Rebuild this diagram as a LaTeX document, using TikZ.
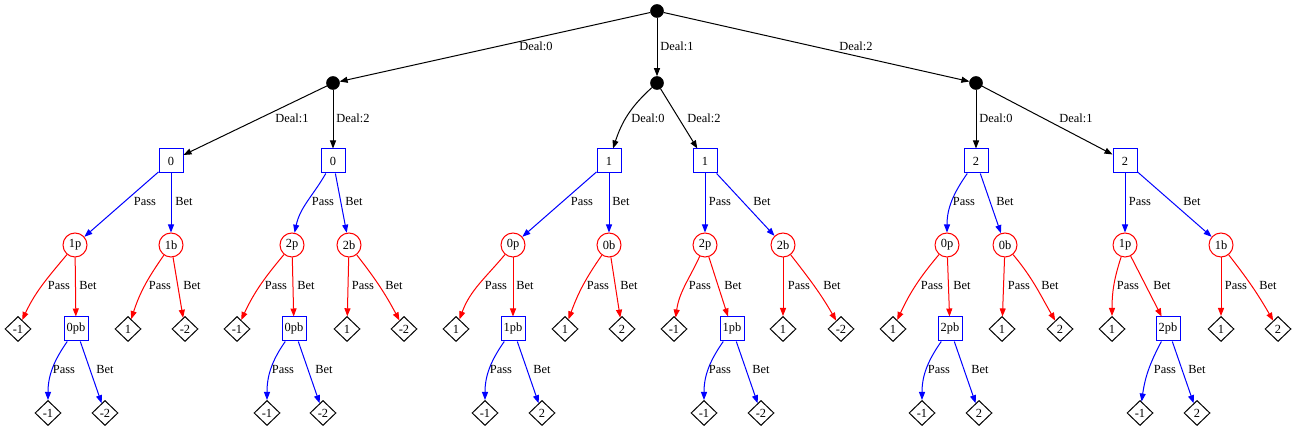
\documentclass[tikz,border=0pt]{standalone}
\usepackage{fontspec}
\setmainfont{Liberation Serif}
\usetikzlibrary{shapes.geometric,arrows.meta}
\begin{document}
\begin{tikzpicture}[x=0.75pt,y=0.75pt,font=\fontsize{9.3}{11}\selectfont,
  chance/.style={circle,fill=black,draw=black,minimum size=9.75pt,inner sep=0pt},
  pzero/.style={rectangle,draw=blue,line width=0.75pt,minimum size=18pt,inner sep=0pt},
  pone/.style={circle,draw=red,line width=0.75pt,minimum size=18pt,inner sep=0pt},
  term/.style={diamond,draw=black,line width=0.75pt,minimum width=19.5pt,minimum height=18.75pt,inner sep=0pt},
  lbl/.style={inner sep=0pt},
  arr/.style={-{Triangle[length=6pt,width=4.5pt]},line width=0.75pt},
  dealedge/.style={arr,draw=black},
  zedge/.style={arr,draw=blue},
  oedge/.style={arr,draw=red}]
\useasboundingbox (0,0) rectangle (1296,431);
% ---------- nodes ----------
\node[chance] (root) at (657,420) {};
\node[chance] (cA) at (333,348) {};
\node[chance] (cB) at (657,348) {};
\node[chance] (cC) at (976,348) {};
% left subtree
\node[pzero] (A1) at (171,270) {0};
\node[pzero] (A2) at (333,270) {0};
\node[pone] (A1p) at (75,186) {1p};
\node[pone] (A1b) at (171,186) {1b};
\node[pone] (A2p) at (292,186) {2p};
\node[pone] (A2b) at (349,186) {2b};
\node[term] (A1pp) at (18,102) {-1};
\node[pzero] (A1pb) at (76,102) {0pb};
\node[term] (A1bp) at (128,102) {1};
\node[term] (A1bb) at (185,102) {-2};
\node[term] (A2pp) at (237,102) {-1};
\node[pzero] (A2pb) at (294,102) {0pb};
\node[term] (A2bp) at (347,102) {1};
\node[term] (A2bb) at (404,102) {-2};
\node[term] (A1pbp) at (48,18) {-1};
\node[term] (A1pbb) at (105,18) {-2};
\node[term] (A2pbp) at (267,18) {-1};
\node[term] (A2pbb) at (323,18) {-2};
% middle subtree
\node[pzero] (B0) at (609,270) {1};
\node[pzero] (B2) at (705,270) {1};
\node[pone] (B0p) at (513,186) {0p};
\node[pone] (B0b) at (609,186) {0b};
\node[pone] (B2p) at (705,186) {2p};
\node[pone] (B2b) at (783,186) {2b};
\node[term] (B0pp) at (456,102) {1};
\node[pzero] (B0pb) at (513,102) {1pb};
\node[term] (B0bp) at (565,102) {1};
\node[term] (B0bb) at (622,102) {2};
\node[term] (B2pp) at (674,102) {-1};
\node[pzero] (B2pb) at (732,102) {1pb};
\node[term] (B2bp) at (783,102) {1};
\node[term] (B2bb) at (841,102) {-2};
\node[term] (B0pbp) at (485,18) {-1};
\node[term] (B0pbb) at (542,18) {2};
\node[term] (B2pbp) at (704,18) {-1};
\node[term] (B2pbb) at (761,18) {-2};
% right subtree
\node[pzero] (C0) at (976,270) {2};
\node[pzero] (C1) at (1125,270) {2};
\node[pone] (C0p) at (947,186) {0p};
\node[pone] (C0b) at (1005,186) {0b};
\node[pone] (C1p) at (1125,186) {1p};
\node[pone] (C1b) at (1221,186) {1b};
\node[term] (C0pp) at (893,102) {1};
\node[pzero] (C0pb) at (950,102) {2pb};
\node[term] (C0bp) at (1002,102) {1};
\node[term] (C0bb) at (1060,102) {2};
\node[term] (C1pp) at (1112,102) {1};
\node[pzero] (C1pb) at (1168,102) {2pb};
\node[term] (C1bp) at (1221,102) {1};
\node[term] (C1bb) at (1278,102) {2};
\node[term] (C0pbp) at (922,18) {-1};
\node[term] (C0pbb) at (979,18) {2};
\node[term] (C1pbp) at (1140,18) {-1};
\node[term] (C1pbb) at (1197,18) {2};
% ---------- edges ----------
\draw[dealedge] (root) -- (cA);
\draw[dealedge] (root) -- (cB);
\draw[dealedge] (root) -- (cC);
\draw[dealedge] (cA) -- (A1);
\draw[dealedge] (cA) -- (A2);
\draw[dealedge] (cB) to[out=-138,in=72] (B0);
\draw[dealedge] (cB) -- (B2);
\draw[dealedge] (cC) -- (C0);
\draw[dealedge] (cC) -- (C1);
% left
\draw[zedge] (A1) -- (A1p);
\draw[zedge] (A1) -- (A1b);
\draw[zedge] (A2) to[out=-120,in=78] (A2p);
\draw[zedge] (A2) -- (A2b);
\draw[oedge] (A1p) to[out=-130,in=65] (A1pp);
\draw[oedge] (A1p) -- (A1pb);
\draw[oedge] (A1b) to[out=-125,in=72] (A1bp);
\draw[oedge] (A1b) -- (A1bb);
\draw[oedge] (A2p) to[out=-130,in=65] (A2pp);
\draw[oedge] (A2p) -- (A2pb);
\draw[oedge] (A2b) -- (A2bp);
\draw[oedge] (A2b) to[out=-52,in=118] (A2bb);
\draw[zedge] (A1pb) to[out=-125,in=90] (A1pbp);
\draw[zedge] (A1pb) -- (A1pbb);
\draw[zedge] (A2pb) to[out=-125,in=90] (A2pbp);
\draw[zedge] (A2pb) -- (A2pbb);
% middle
\draw[zedge] (B0) -- (B0p);
\draw[zedge] (B0) -- (B0b);
\draw[zedge] (B2) -- (B2p);
\draw[zedge] (B2) -- (B2b);
\draw[oedge] (B0p) to[out=-130,in=70] (B0pp);
\draw[oedge] (B0p) -- (B0pb);
\draw[oedge] (B0b) to[out=-125,in=70] (B0bp);
\draw[oedge] (B0b) -- (B0bb);
\draw[oedge] (B2p) to[out=-115,in=82] (B2pp);
\draw[oedge] (B2p) -- (B2pb);
\draw[oedge] (B2b) -- (B2bp);
\draw[oedge] (B2b) to[out=-52,in=120] (B2bb);
\draw[zedge] (B0pb) to[out=-125,in=90] (B0pbp);
\draw[zedge] (B0pb) -- (B0pbb);
\draw[zedge] (B2pb) to[out=-125,in=90] (B2pbp);
\draw[zedge] (B2pb) -- (B2pbb);
% right
\draw[zedge] (C0) to[out=-125,in=90] (C0p);
\draw[zedge] (C0) -- (C0b);
\draw[zedge] (C1) -- (C1p);
\draw[zedge] (C1) -- (C1b);
\draw[oedge] (C0p) to[out=-130,in=65] (C0pp);
\draw[oedge] (C0p) -- (C0pb);
\draw[oedge] (C0b) -- (C0bp);
\draw[oedge] (C0b) to[out=-50,in=120] (C0bb);
\draw[oedge] (C1p) to[out=-108,in=90] (C1pp);
\draw[oedge] (C1p) -- (C1pb);
\draw[oedge] (C1b) -- (C1bp);
\draw[oedge] (C1b) to[out=-52,in=120] (C1bb);
\draw[zedge] (C0pb) to[out=-125,in=90] (C0pbp);
\draw[zedge] (C0pb) -- (C0pbb);
\draw[zedge] (C1pb) to[out=-118,in=82] (C1pbp);
\draw[zedge] (C1pb) -- (C1pbb);
% ---------- labels ----------
\node[lbl] (lrA) at (536,385) {Deal:0};
\node[lbl] (lrB) at (677,385) {Deal:1};
\node[lbl] (lrC) at (856,385) {Deal:2};
\node[lbl] (lA1) at (292,313) {Deal:1};
\node[lbl] (lA2) at (353,313) {Deal:2};
\node[lbl] (lB0) at (648,313) {Deal:0};
\node[lbl] (lB2) at (704,313) {Deal:2};
\node[lbl] (lC0) at (996,313) {Deal:0};
\node[lbl] (lC1) at (1076,313) {Deal:1};
% level 2 -> 3
\node[lbl] (lA1p) at (145,229) {Pass};
\node[lbl] (lA1b) at (184,229) {Bet};
\node[lbl] (lA2p) at (323,229) {Pass};
\node[lbl] (lA2b) at (354,229) {Bet};
\node[lbl] (lB0p) at (582,229) {Pass};
\node[lbl] (lB0b) at (621,229) {Bet};
\node[lbl] (lB2p) at (720,229) {Pass};
\node[lbl] (lB2b) at (762,229) {Bet};
\node[lbl] (lC0p) at (964,229) {Pass};
\node[lbl] (lC0b) at (1005,229) {Bet};
\node[lbl] (lC1p) at (1140,229) {Pass};
\node[lbl] (lC1b) at (1192,229) {Bet};
% level 3 -> 4
\node[lbl] (lA1pp) at (59,145) {Pass};
\node[lbl] (lA1pb) at (88,145) {Bet};
\node[lbl] (lA1bp) at (160,145) {Pass};
\node[lbl] (lA1bb) at (192,145) {Bet};
\node[lbl] (lA2pp) at (276,145) {Pass};
\node[lbl] (lA2pb) at (306,145) {Bet};
\node[lbl] (lA2bp) at (363,145) {Pass};
\node[lbl] (lA2bb) at (394,145) {Bet};
\node[lbl] (lB0pp) at (496,145) {Pass};
\node[lbl] (lB0pb) at (525,145) {Bet};
\node[lbl] (lB0bp) at (598,145) {Pass};
\node[lbl] (lB0bb) at (629,145) {Bet};
\node[lbl] (lB2pp) at (700,145) {Pass};
\node[lbl] (lB2pb) at (733,145) {Bet};
\node[lbl] (lB2bp) at (799,145) {Pass};
\node[lbl] (lB2bb) at (832,145) {Bet};
\node[lbl] (lC0pp) at (932,145) {Pass};
\node[lbl] (lC0pb) at (962,145) {Bet};
\node[lbl] (lC0bp) at (1019,145) {Pass};
\node[lbl] (lC0bb) at (1050,145) {Bet};
\node[lbl] (lC1pp) at (1128,145) {Pass};
\node[lbl] (lC1pb) at (1162,145) {Bet};
\node[lbl] (lC1bp) at (1236,145) {Pass};
\node[lbl] (lC1bb) at (1268,145) {Bet};
% level 4 -> 5
\node[lbl] (lA1pbp) at (64,61) {Pass};
\node[lbl] (lA1pbb) at (105,61) {Bet};
\node[lbl] (lA2pbp) at (283,61) {Pass};
\node[lbl] (lA2pbb) at (324,61) {Bet};
\node[lbl] (lB0pbp) at (501,61) {Pass};
\node[lbl] (lB0pbb) at (542,61) {Bet};
\node[lbl] (lB2pbp) at (720,61) {Pass};
\node[lbl] (lB2pbb) at (761,61) {Bet};
\node[lbl] (lC0pbp) at (939,61) {Pass};
\node[lbl] (lC0pbb) at (980,61) {Bet};
\node[lbl] (lC1pbp) at (1165,61) {Pass};
\node[lbl] (lC1pbb) at (1197,61) {Bet};
\end{tikzpicture}
\end{document}
